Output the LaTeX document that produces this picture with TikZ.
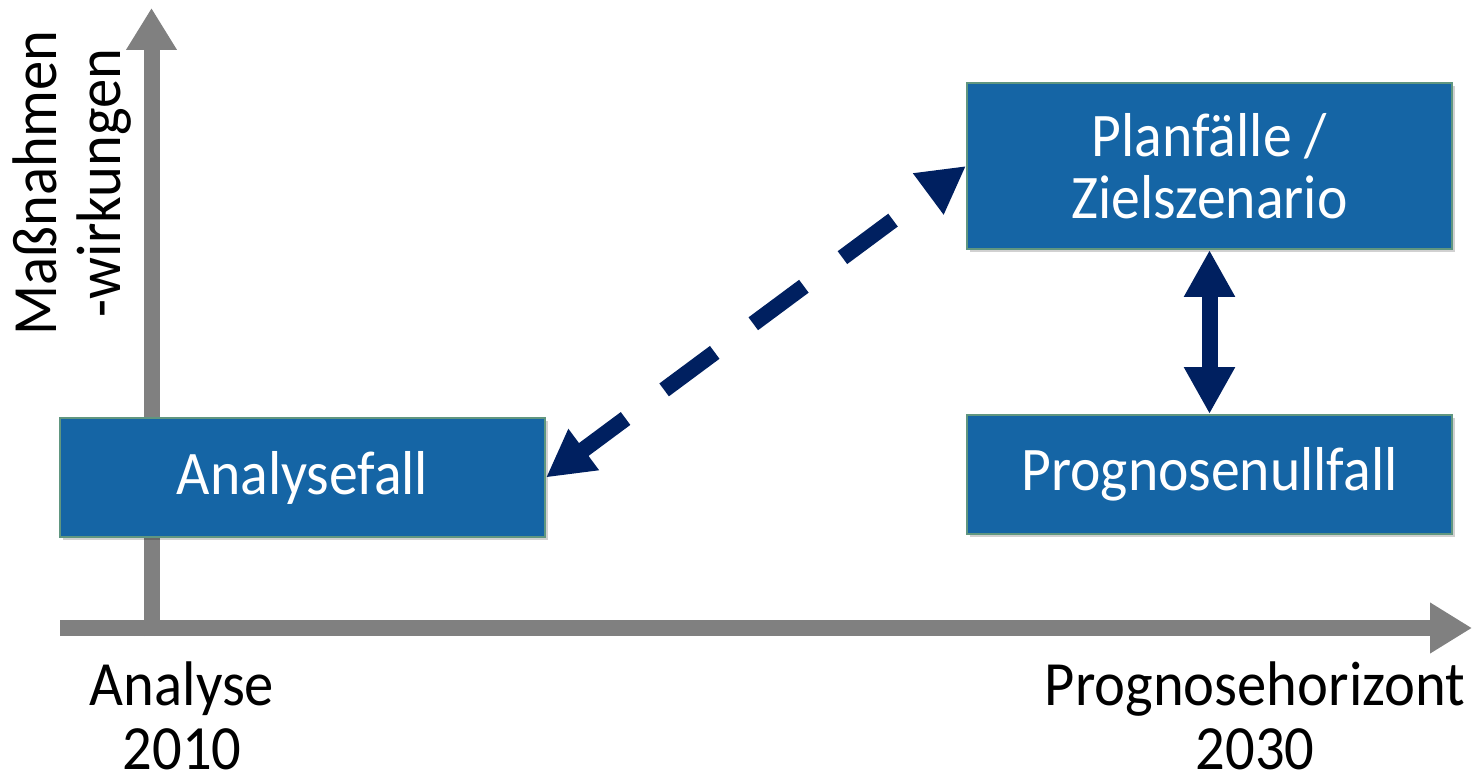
\documentclass[tikz,border=0pt]{standalone}
\usepackage{fontspec}
\setmainfont[FakeStretch=0.93]{Carlito}
\usetikzlibrary{arrows.meta,shadows}
\definecolor{boxblue}{RGB}{21,101,165}
\definecolor{boxedge}{RGB}{96,150,128}
\definecolor{navy}{RGB}{0,32,96}
\definecolor{axisgrey}{RGB}{128,128,128}
\tikzset{
  casebox/.style={rectangle, fill=boxblue, draw=boxedge, line width=1pt,
    minimum width=242.5pt, text=white, align=center, inner sep=0pt,
    font=\fontsize{31}{31}\selectfont,
    drop shadow={shadow xshift=1.5pt, shadow yshift=-1.5pt, opacity=0.18, fill=black}},
  axisline/.style={draw=axisgrey, line width=8pt,
    -{Triangle[width=24pt,length=21pt]}},
  axislabel/.style={align=center, inner sep=0pt,
    font=\fontsize{31.5}{32}\selectfont},
  ticklabel/.style={axislabel, anchor=base, text depth=0pt},
  relation/.style={draw=navy, line width=8pt,
    {Triangle[width=24pt,length=23.5pt]}-{Triangle[width=24pt,length=23.5pt]}},
}
\begin{document}
\begin{tikzpicture}[x=0.5pt,y=-0.5pt]
  \useasboundingbox (0,0) rectangle (1472,775);

  % axes
  \coordinate (xstart) at (60,628);
  \coordinate (xend) at (1472,628);
  \coordinate (ystart) at (151.5,636);
  \coordinate (yend) at (151.5,8);
  \draw[axisline] (ystart) -- (yend);
  \draw[axisline] (xstart) -- (xend);

  % cases
  \node[casebox, minimum height=59.5pt] (ana) at (302.5,477.5) {\raisebox{-2pt}{Analysefall}};
  \node[casebox, minimum height=83pt] (plan) at (1209.5,166) {Planfälle /\\Zielszenario};
  \node[casebox, minimum height=59.5pt] (prog) at (1209.5,474.5) {\raisebox{-2pt}{Prognosenullfall}};

  % relations
  \draw[relation, dash pattern=on 31.5pt off 24pt, dash phase=4pt] (ana.east) -- (plan.west);
  \draw[relation] (plan.south) -- (prog.north);

  % axis labels (base anchor sits on the last line)
  \node[ticklabel] (tnow) at (182,769) {Analyse\\2010};
  \node[ticklabel] (tfut) at (1255,769) {Prognosehorizont\\2030};
  \node[axislabel, rotate=90] (ylab) at (72,183) {Maßnahmen\\-wirkungen};
\end{tikzpicture}
\end{document}
